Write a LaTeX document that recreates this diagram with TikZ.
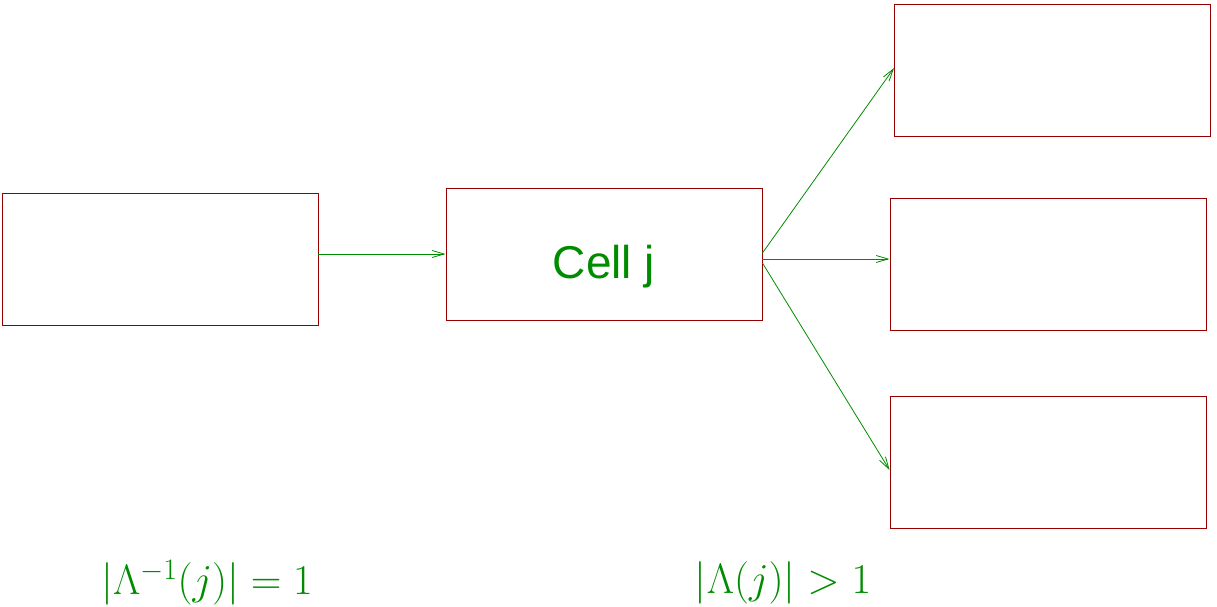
\RequirePackage{fix-cm}
\documentclass[tikz,border=0pt]{standalone}
\usepackage{amsmath}
\usepackage{fontspec}
\setsansfont{Liberation Sans}
\usetikzlibrary{arrows.meta}
\definecolor{figred}{RGB}{150,0,0}
\definecolor{figgreen}{RGB}{0,140,0}
\begin{document}
\begin{tikzpicture}[
  x=1pt,
  y=-1pt,
  cellbox/.style={draw=figred, line width=0.9pt, minimum width=316pt, minimum height=132pt, inner sep=0pt},
  flowarrow/.style={draw=figgreen, line width=0.8pt, -{Straight Barb[length=12pt,width=7pt]}},
  countlabel/.style={text=figgreen, font=\fontsize{42.5}{50}\selectfont}
]
  \useasboundingbox (0,0) rectangle (1217,607);

  \node[cellbox] (parent) at (160,259) {};
  \node[cellbox, text=figgreen, text height=48pt, text depth=0pt,
    font=\sffamily\fontsize{46}{55}\selectfont] (cellj) at (604,254) {Cell j};
  \node[cellbox] (childa) at (1052.5,70) {};
  \node[cellbox] (childb) at (1048,264) {};
  \node[cellbox] (childc) at (1048,462) {};

  \draw[flowarrow] (parent.east |- cellj.west) -- (cellj.west);
  \draw[flowarrow] ([yshift=1pt]cellj.east) -- ([yshift=2pt]childa.west);
  \draw[flowarrow] ([yshift=-5pt]cellj.east) -- ([yshift=5pt]childb.west);
  \draw[flowarrow] ([yshift=-9pt]cellj.east) -- ([yshift=-8pt]childc.west);

  \node[countlabel] (prelabel) at (207,583) {$|\Lambda^{-1}(j)| = 1$};
  \node[countlabel] (postlabel) at (783,583) {$|\Lambda(j)| > 1$};
\end{tikzpicture}
\end{document}
